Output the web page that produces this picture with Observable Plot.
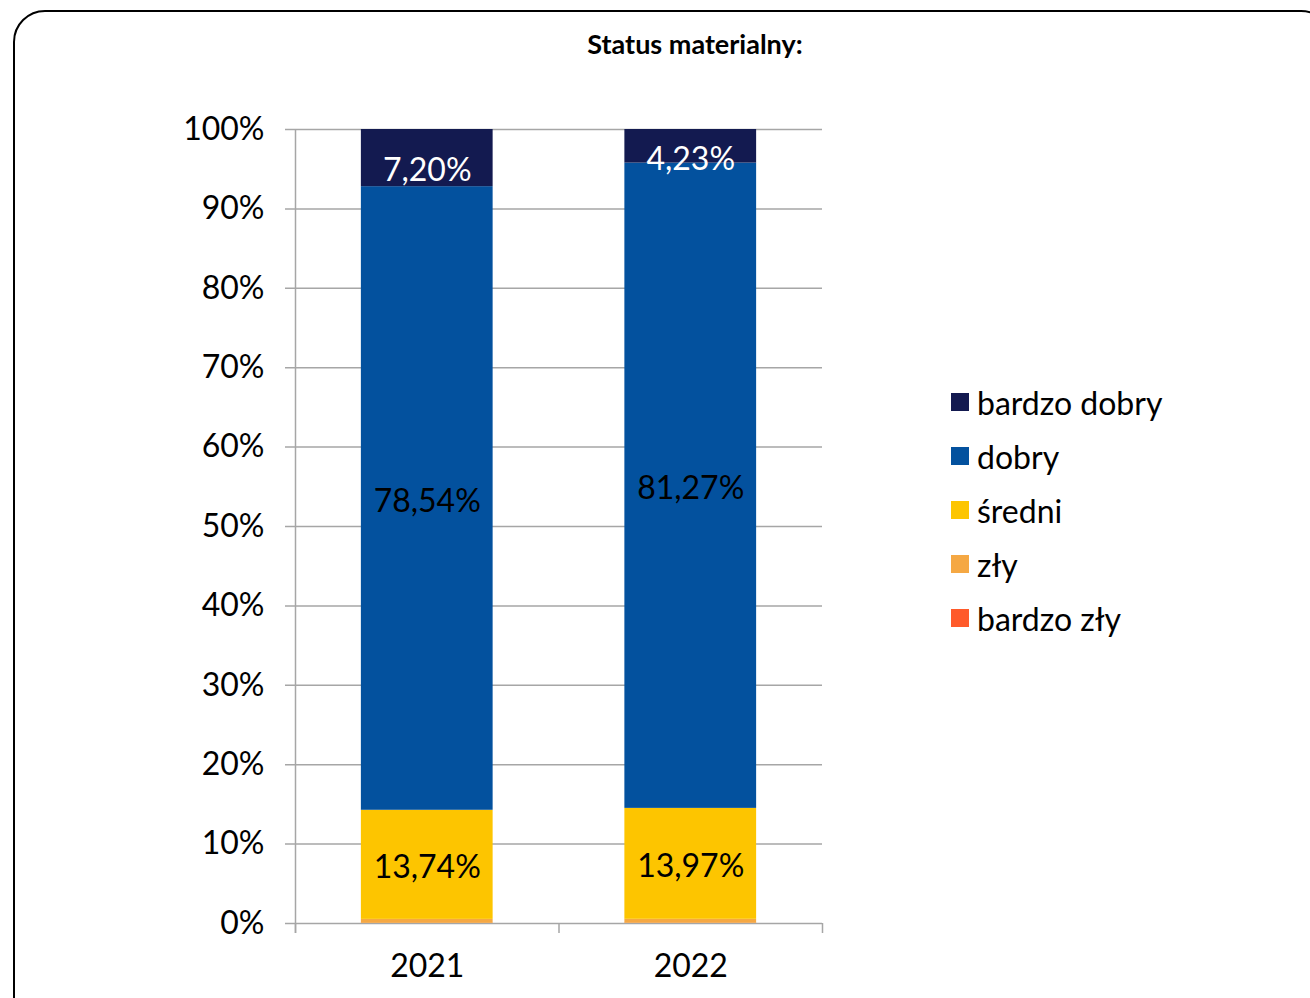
<!DOCTYPE html>
<html>
<head>
<meta charset="utf-8">
<script src="https://cdn.jsdelivr.net/npm/d3@7"></script>
<script src="https://cdn.jsdelivr.net/npm/@observablehq/plot@0.6"></script>
<style>
  html, body { margin: 0; padding: 0; background: #fff; overflow: hidden; }
  body { width: 1310px; height: 998px; position: relative; font-family: Lato, "Noto Sans", sans-serif; }
  #frame { position: absolute; left: 13px; top: 10px; width: 1320px; height: 1020px; border: 2.5px solid #000; border-radius: 32px; box-sizing: border-box; }
  #title { position: absolute; left: 0; width: 1390px; top: 28px; text-align: center; font-weight: bold; font-size: 27px; color: #000; line-height: 32px; }
  #chart { position: absolute; left: 0; top: 80px; }
  #legend { position: absolute; left: 951px; top: 393px; }
  .item { display: flex; align-items: center; height: 54px; margin-top: -18px; margin-bottom: 18px; font-size: 32px; color: #000; }
  .item span.sw { width: 18px; height: 18px; display: inline-block; margin-right: 8px; }
</style>
</head>
<body>
<div id="frame"></div>
<div id="title">Status materialny:</div>
<div id="chart"></div>
<div id="legend"></div>
<script>
const years = ["2021", "2022"];
const series = ["bardzo zły", "zły", "średni", "dobry", "bardzo dobry"];
const colors = ["#ff5a2a", "#f5a843", "#fdc500", "#03519e", "#131a50"];
const bardzoZly = [0.02, 0.03];
const zly = [0.50, 0.50];
const sredni = [13.74, 13.97];
const dobry = [78.54, 81.27];
const bardzoDobry = [7.20, 4.23];
const labeled = ["średni", "dobry"];
const yTicks = [0, 10, 20, 30, 40, 50, 60, 70, 80, 90, 100];

const valuesBySeries = [bardzoZly, zly, sredni, dobry, bardzoDobry];
const rows = [];
years.forEach((yr, i) => {
  let acc = 0;
  series.forEach((s, k) => {
    const v = valuesBySeries[k][i];
    rows.push({year: yr, idx: i, series: s, value: v, y1: acc, y2: acc + v});
    acc += v;
  });
});

const fmt = v => v.toFixed(2).replace(".", ",") + "%";
const grid = "#a6a6a6";

const chart = Plot.plot({
  width: 832,
  height: 918,
  marginLeft: 295,
  marginRight: 10,
  marginTop: 49,
  marginBottom: 75,
  style: {fontFamily: "Lato, 'Noto Sans', sans-serif", fontSize: "32px", color: "#000", background: "transparent", overflow: "visible"},
  x: {domain: [0, years.length], axis: null},
  y: {domain: [0, 100], axis: null},
  color: {domain: series, range: colors},
  marks: [
    Plot.ruleY(yTicks, {stroke: grid, strokeWidth: 1.5, insetLeft: -10}),
    Plot.ruleX([0], {y1: 100, y2: 0, stroke: grid, strokeWidth: 1.5, insetBottom: -10}),
    Plot.axisY({ticks: yTicks, tickSize: 0, tickPadding: 31, tickFormat: d => d + "%", fontSize: 32, fill: "#000"}),
    Plot.axisX({ticks: d3.range(years.length + 1), tickSize: 10, tickFormat: () => "", stroke: grid, strokeWidth: 1.5}),
    Plot.rect(rows, {x1: d => d.idx + 0.25, x2: d => d.idx + 0.75, y1: "y1", y2: "y2", fill: "series"}),
    Plot.text(years, {x: (d, i) => i + 0.5, y: 0, dy: 43, text: d => d, fontSize: 32, fill: "#000"}),
    Plot.text(rows.filter(d => labeled.includes(d.series)), {
      x: d => d.idx + 0.5,
      y: d => (d.y1 + d.y2) / 2,
      dy: 3,
      text: d => fmt(d.value),
      fill: "#000",
      fontSize: 32
    }),
    Plot.text(rows.filter(d => d.series === "bardzo dobry"), {
      x: d => d.idx + 0.5,
      y: d => (d.y1 + d.y2) / 2,
      dy: 13,
      text: d => fmt(d.value),
      fill: "#fff",
      fontSize: 32
    })
  ]
});
document.getElementById("chart").appendChild(chart);

const legend = document.getElementById("legend");
const legendOrder = ["bardzo dobry", "dobry", "średni", "zły", "bardzo zły"];
legendOrder.forEach(s => {
  const div = document.createElement("div");
  div.className = "item";
  const sw = document.createElement("span");
  sw.className = "sw";
  sw.style.background = colors[series.indexOf(s)];
  div.appendChild(sw);
  div.appendChild(document.createTextNode(s));
  legend.appendChild(div);
});
</script>
</body>
</html>
